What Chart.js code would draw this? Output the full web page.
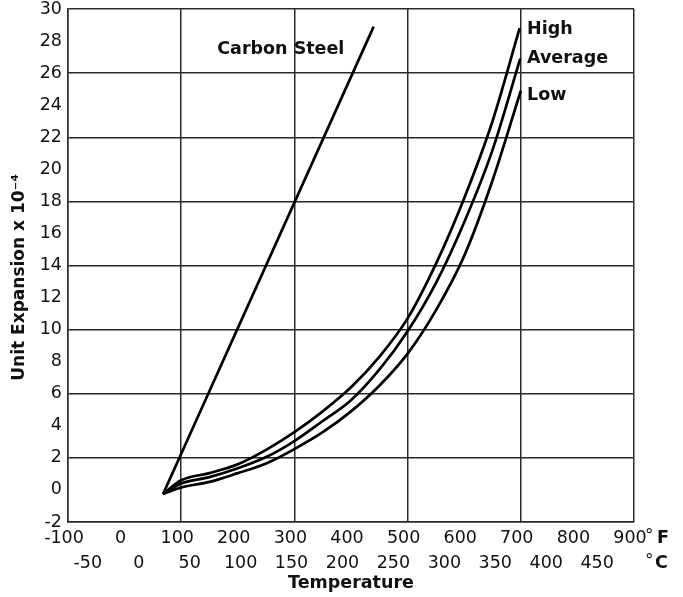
<!DOCTYPE html>
<html>
<head>
<meta charset="utf-8">
<script src="https://cdn.jsdelivr.net/npm/chart.js@4.4.1/dist/chart.umd.min.js"></script>
<style>
  html, body { margin: 0; padding: 0; background: #fff; }
  #wrap { width: 683px; height: 597px; position: relative; }
</style>
</head>
<body>
<div id="wrap"><canvas id="c"></canvas></div>
<script>
// ---- Data (°F, unit expansion x 10^-4) ----
const F_TICKS = [-100, 0, 100, 200, 300, 400, 500, 600, 700, 800, 900];
const C_TICKS = [-50, 0, 50, 100, 150, 200, 250, 300, 350, 400, 450];
const Y_TICKS = [-2, 0, 2, 4, 6, 8, 10, 12, 14, 16, 18, 20, 22, 24, 26, 28, 30];
const F_GRID = [-100, 100, 300, 500, 700, 900];
const Y_GRID = [-2, 2, 6, 10, 14, 18, 22, 26, 30];

const carbonSteelF = [68, 440];
const carbonSteelY = [-0.25, 28.9];

const highF = [68, 100, 150, 200, 250, 300, 350, 400, 450, 500, 550, 600, 650, 698];
const highY = [-0.25, 0.6, 1.05, 1.6, 2.5, 3.6, 4.9, 6.4, 8.3, 10.7, 14.1, 18.2, 23.0, 28.8];

const avgF = [68, 100, 150, 200, 250, 300, 350, 400, 450, 500, 550, 600, 650, 699];
const avgY = [-0.25, 0.4, 0.8, 1.35, 2.05, 3.05, 4.3, 5.6, 7.5, 9.9, 12.9, 16.7, 21.2, 26.9];

const lowF = [68, 100, 150, 200, 250, 300, 350, 400, 450, 500, 550, 600, 650, 700];
const lowY = [-0.25, 0.15, 0.5, 1.05, 1.65, 2.55, 3.6, 4.9, 6.5, 8.5, 11.2, 14.6, 19.3, 24.9];

const labels = [
  { text: 'Carbon Steel', x: 276, y: 27.5, align: 'center' },
  { text: 'High', x: 711, y: 28.75, align: 'left' },
  { text: 'Average', x: 711, y: 26.9, align: 'left' },
  { text: 'Low', x: 711, y: 24.6, align: 'left' }
];

const fToC = f => (f - 32) / 1.8;
const pts = (xs, ys) => xs.map((x, i) => ({ x: x, y: ys[i] }));

const FONT = 'DejaVu Sans';
const INK = '#111';
const GRIDC = '#2a2a2a';

const lineStyle = {
  borderColor: '#000',
  borderWidth: 2.7,
  pointRadius: 0,
  fill: false,
  showLine: true,
  cubicInterpolationMode: 'monotone'
};

const annot = {
  id: 'annot',
  afterDatasetsDraw(chart) {
    const ctx = chart.ctx;
    const xs = chart.scales.x, ys = chart.scales.y;
    ctx.save();
    ctx.fillStyle = INK;
    ctx.font = 'bold 17.5px "' + FONT + '"';
    ctx.textBaseline = 'middle';
    labels.forEach(l => {
      ctx.textAlign = l.align;
      ctx.fillText(l.text, xs.getPixelForValue(l.x), ys.getPixelForValue(l.y));
    });
    // unit labels
    const ca = chart.chartArea;
    const xc = chart.scales.xc;
    const rowF = xs.top + 16;
    const rowC = xc.top + 13;
    ctx.textAlign = 'left';
    ctx.font = '17px "' + FONT + '"';
    ctx.fillText('°', ca.right + 11, rowF - 1);
    ctx.fillText('°', ca.right + 11, rowC - 1);
    ctx.font = 'bold 17.5px "' + FONT + '"';
    ctx.fillText('F', ca.right + 23, rowF);
    ctx.fillText('C', ca.right + 21, rowC);
    ctx.restore();
  }
};

const noPad = s => { s.paddingLeft = 0; s.paddingRight = 0; s.paddingTop = 0; s.paddingBottom = 0; };

new Chart(document.getElementById('c'), {
  type: 'line',
  data: {
    datasets: [
      Object.assign({ label: 'Carbon Steel', data: pts(carbonSteelF, carbonSteelY) }, lineStyle, { cubicInterpolationMode: 'default' }),
      Object.assign({ label: 'High', data: pts(highF, highY) }, lineStyle),
      Object.assign({ label: 'Average', data: pts(avgF, avgY) }, lineStyle),
      Object.assign({ label: 'Low', data: pts(lowF, lowY) }, lineStyle)
    ]
  },
  options: {
    responsive: true,
    maintainAspectRatio: false,
    animation: false,
    devicePixelRatio: 1,
    layout: { padding: { left: 0, right: 49, top: 9, bottom: 0 } },
    plugins: { legend: { display: false }, tooltip: { enabled: false } },
    scales: {
      x: {
        type: 'linear',
        position: 'bottom',
        weight: 1,
        min: -100, max: 900,
        afterBuildTicks: s => { s.ticks = F_TICKS.map(v => ({ value: v })); },
        afterFit: s => { s.height = 28; noPad(s); },
        grid: {
          drawTicks: false,
          lineWidth: 1.5,
          color: c => (c.tick && F_GRID.includes(c.tick.value)) ? GRIDC : 'rgba(0,0,0,0)'
        },
        border: { display: true, color: GRIDC, width: 1.5 },
        ticks: { color: INK, font: { family: FONT, size: 17.5 }, padding: 6, labelOffset: -4, maxRotation: 0, autoSkip: false }
      },
      xc: {
        type: 'linear',
        position: 'bottom',
        weight: 2,
        min: fToC(-100), max: fToC(900),
        afterBuildTicks: s => { s.ticks = C_TICKS.map(v => ({ value: v })); },
        afterFit: s => { s.height = 47; noPad(s); },
        grid: { display: false, drawTicks: false },
        border: { display: false },
        ticks: { color: INK, font: { family: FONT, size: 17.5 }, padding: 3, labelOffset: -4, maxRotation: 0, autoSkip: false },
        title: { display: true, text: 'Temperature', color: INK, font: { family: FONT, size: 17.5, weight: 'bold' }, padding: { top: 0, bottom: 3 } }
      },
      y: {
        type: 'linear',
        position: 'left',
        min: -2, max: 30,
        afterBuildTicks: s => { s.ticks = Y_TICKS.map(v => ({ value: v })); },
        afterFit: s => { s.width = 68; noPad(s); },
        grid: {
          drawTicks: false,
          lineWidth: 1.5,
          color: c => (c.tick && Y_GRID.includes(c.tick.value)) ? GRIDC : 'rgba(0,0,0,0)'
        },
        border: { display: true, color: GRIDC, width: 1.5 },
        ticks: { color: INK, font: { family: FONT, size: 17.5 }, padding: 6, autoSkip: false },
        title: { display: true, text: 'Unit Expansion x 10⁻⁴    ', color: INK, font: { family: FONT, size: 17, weight: 'bold' }, padding: { top: 9, bottom: 0 } }
      }
    }
  },
  plugins: [annot]
});
</script>
</body>
</html>
